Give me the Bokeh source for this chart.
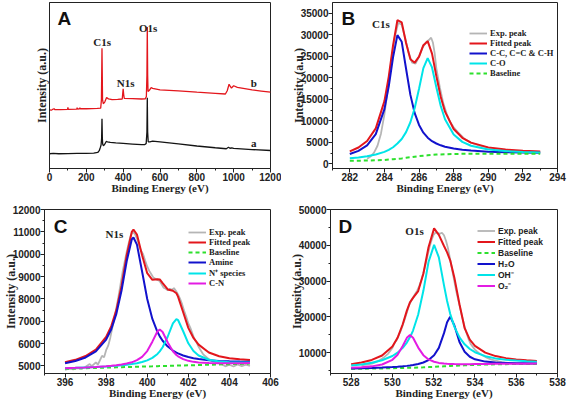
from bokeh.plotting import figure
from bokeh.layouts import column, row
from bokeh.models import Range1d, SingleIntervalTicker, FixedTicker, Label, Legend, LegendItem
from bokeh.embed import file_html
from bokeh.resources import INLINE

# ---------------- data: panel A (survey, arbitrary units) ----------------
survey_a_x = [0, 20, 50, 100, 150, 200, 240, 262, 270, 276, 280, 283, 285, 287, 289, 293, 300, 308, 315, 330,
              360, 400, 450, 500, 518, 525, 529, 531, 533, 536, 545, 560, 600, 700, 800, 900, 960, 972, 980, 990,
              1000, 1100, 1200]
survey_a_y = [6.6, 6.8, 6.6, 6.7, 6.8, 6.9, 7.0, 7.4, 8.5, 10.5, 12.0, 16.0, 28.2, 16.0, 12.5, 11.5, 12.5, 14.2, 14.0, 13.6,
              13.3, 13.0, 12.6, 12.2, 12.3, 13.0, 20.0, 41.2, 20.0, 14.0, 14.0, 14.4, 14.0, 12.7, 11.4, 10.3, 9.7, 10.6, 10.0, 10.2,
              9.9, 9.2, 8.6]
survey_b_x = [0, 10, 20, 25, 30, 60, 98, 100, 102, 148, 150, 152, 163, 165, 167, 200, 260, 278, 282, 285,
              288, 292, 300, 310, 320, 340, 370, 395, 397, 400, 403, 406, 450, 500, 520, 526, 529, 531, 533, 535,
              542, 552, 560, 600, 700, 800, 900, 955, 965, 975, 980, 988, 1000, 1020, 1100, 1150, 1200]
survey_b_y = [33.7, 33.5, 34.2, 34.4, 33.8, 33.9, 34.0, 35.2, 34.0, 34.2, 35.0, 34.2, 34.4, 35.0, 34.4, 34.4, 34.6, 34.8, 40.0, 71.8,
              40.0, 37.5, 38.5, 41.3, 40.5, 40.0, 40.2, 40.4, 43.0, 46.7, 43.0, 40.8, 40.7, 40.4, 40.5, 42.0, 55.0, 84.8, 55.0, 45.0,
              45.8, 47.5, 47.0, 46.1, 45.4, 44.6, 43.9, 43.5, 45.5, 49.5, 48.5, 47.2, 48.6, 47.6, 46.0, 45.3, 44.6]

# ---------------- data: panel B (C1s) ----------------
b_x = [282, 282.5, 283, 283.5, 284, 284.25, 284.5, 284.75, 285, 285.25, 285.5, 285.75, 286, 286.25, 286.5, 286.75,
       287, 287.25, 287.5, 288, 288.5, 289, 290, 291, 292, 293]
b_fit = [2900, 3790, 5300, 8230, 14580, 20270, 27600, 33410, 32870, 28080, 24300, 23500, 24900, 27580, 28500, 25600,
         20370, 15600, 12120, 8090, 6050, 4930, 3820, 3310, 3020, 2850]
b_cc = [2290, 3020, 4300, 6900, 12720, 18010, 24810, 29900, 28350, 22100, 16020, 11760, 9030, 7240, 6070, 5260,
        4720, 4300, 3980, 3570, 3270, 3070, 2830, 2700, 2610, 2550]
b_co = [1310, 1490, 1740, 2150, 2770, 3240, 3850, 4710, 5770, 7370, 9660, 12960, 17450, 22230, 24580, 22400,
        17800, 13490, 10370, 6820, 5100, 4190, 3330, 2960, 2760, 2650]
b_base = [700, 725, 750, 825, 900, 980, 1060, 1160, 1250, 1390, 1520, 1660, 1800, 1890, 1980, 2060,
          2150, 2190, 2230, 2300, 2310, 2320, 2340, 2350, 2350, 2350]
b_exp_x = [283.0, 283.2, 283.4, 283.6, 283.8, 284.0, 284.2, 284.4, 284.6, 284.8, 285.0, 285.2, 285.4, 285.6, 285.8,
           286.0, 286.2, 286.4, 286.6, 286.7, 286.8, 286.9, 287.0, 287.2, 287.4, 287.6, 287.8, 288.0, 288.3, 288.6,
           289.0, 289.5, 290.0, 290.5, 291.0, 292.0, 293.0]
b_exp_y = [1200, 1700, 2600, 4200, 7000, 11500, 17500, 24000, 29500, 32800, 32300, 29200, 25800, 23500, 23300,
           24900, 27000, 28200, 28900, 29300, 28200, 25800, 22200, 17800, 14100, 11600, 9700, 8500, 7100, 5900,
           4900, 4200, 3700, 3400, 3150, 2900, 2750]

# ---------------- data: panel C (N1s) ----------------
c_x = [396, 396.5, 397, 397.5, 398, 398.25, 398.5, 398.75, 399, 399.25, 399.33, 399.5, 399.75, 400, 400.25, 400.5,
       400.61, 400.75, 401, 401.25, 401.42, 401.5, 401.75, 402, 402.25, 402.5, 403, 403.5, 404, 404.5, 405]
c_fit = [5157, 5269, 5440, 5731, 6291, 6777, 7505, 8575, 9941, 11003, 11100, 10880, 9950, 9150, 8850, 8880,
         8870, 8700, 8420, 8360, 8250, 8100, 7400, 6700, 6250, 5950, 5600, 5430, 5340, 5290, 5260]
c_amine = [5115, 5217, 5375, 5647, 6177, 6640, 7340, 8372, 9685, 10668, 10745, 10428, 9223, 7994, 7101, 6511,
           6321, 6123, 5863, 5683, 5593, 5557, 5464, 5395, 5344, 5305, 5252, 5220, 5201, 5191, 5187]
c_nplus = [4891, 4909, 4928, 4948, 4973, 4988, 5005, 5025, 5049, 5079, 5090, 5118, 5170, 5244, 5355, 5533,
           5645, 5830, 6314, 6905, 7092, 7051, 6549, 6009, 5665, 5465, 5274, 5197, 5165, 5151, 5148]
c_cn = [4891, 4909, 4929, 4952, 4983, 5003, 5028, 5058, 5101, 5162, 5187, 5254, 5404, 5660, 6083, 6550,
        6623, 6515, 6044, 5654, 5486, 5427, 5299, 5224, 5178, 5151, 5123, 5112, 5112, 5116, 5123]
c_base = [4870, 4883, 4896, 4908, 4921, 4927, 4934, 4940, 4947, 4953, 4955, 4960, 4966, 4972, 4978, 4985,
          4988, 4991, 4998, 5004, 5009, 5011, 5017, 5023, 5029, 5036, 5049, 5061, 5074, 5087, 5100]
c_exp_x = [396.0, 396.2, 396.4, 396.6, 396.8, 397.0, 397.2, 397.3, 397.5, 397.6, 397.8, 397.9, 398.0, 398.1, 398.2,
           398.3, 398.4, 398.5, 398.6, 398.7, 398.8, 398.9, 399.0, 399.1, 399.2, 399.3, 399.4, 399.5, 399.6, 399.7,
           399.8, 399.9, 400.0, 400.1, 400.2, 400.3, 400.4, 400.5, 400.6, 400.7, 400.8, 400.9, 401.0, 401.1, 401.2,
           401.3, 401.4, 401.5, 401.6, 401.7, 401.8, 401.9, 402.0, 402.1, 402.2, 402.3, 402.4, 402.5, 402.6, 402.7,
           402.8, 403.0, 403.2, 403.4, 403.6, 403.8, 404.0, 404.2, 404.4, 404.6, 404.8, 405.0]
c_exp_y = [4820, 4880, 4840, 4900, 4870, 4960, 5080, 4990, 5150, 5060, 5450, 5380, 5700, 5900, 6250,
           6700, 7100, 7600, 8100, 8650, 9200, 9650, 10100, 10500, 10850, 11000, 10900, 10700, 10400, 10150,
           10000, 9700, 9450, 9250, 9100, 8950, 8900, 8850, 8800, 8650, 8500, 8450, 8380, 8450, 8400,
           8480, 8350, 8200, 8000, 7750, 7450, 7200, 6900, 6700, 6450, 6200, 6050, 5850, 5700, 5550,
           5450, 5300, 5200, 5150, 5080, 4980, 5050, 4970, 5060, 4990, 5050, 5000]

# ---------------- data: panel D (O1s) ----------------
d_x = [528, 528.5, 529, 529.5, 530, 530.25, 530.5, 530.7, 530.85, 531, 531.25, 531.5, 531.75, 532.02, 532.25,
       532.5, 532.65, 532.8, 533, 533.25, 533.5, 533.75, 534, 534.5, 535, 535.5, 536, 536.5, 537]
d_fit = [6748, 7203, 7920, 9161, 11695, 14097, 17899, 21722, 24035, 25278, 27178, 32017, 39448, 44720, 42885,
         39800, 38000, 35800, 31000, 23500, 16800, 13586, 11875, 9972, 8993, 8424, 8065, 7822, 7648]
d_h2o = [5540, 5597, 5674, 5775, 5918, 6017, 6141, 6260, 6370, 6500, 6786, 7211, 7892, 9207, 11296,
         15419, 18483, 20020, 17626, 12934, 10191, 8817, 8100, 7450, 7198, 7081, 7025, 6994, 6973]
d_oh = [6365, 6670, 7123, 7827, 9025, 9965, 11292, 12773, 14245, 16139, 20613, 27255, 35308, 40090, 36614,
        28786, 24403, 20818, 17250, 14244, 12282, 10975, 10080, 8973, 8354, 7978, 7735, 7567, 7445]
d_o2 = [5703, 5856, 6123, 6649, 7952, 9385, 11816, 14099, 14880, 14149, 11379, 9251, 8068, 7403, 7095,
        6910, 6835, 6785, 6749, 6731, 6725, 6734, 6755, 6789, 6821, 6845, 6865, 6881, 6890]
d_base = [5430, 5460, 5500, 5545, 5600, 5635, 5675, 5705, 5730, 5755, 5800, 5850, 5910, 5990, 6060,
          6140, 6180, 6220, 6280, 6350, 6410, 6470, 6530, 6620, 6690, 6740, 6780, 6810, 6830]
d_exp_x = [528.5, 528.8, 529.0, 529.2, 529.4, 529.6, 529.8, 530.0, 530.1, 530.2, 530.3, 530.4, 530.5, 530.6, 530.7,
           530.8, 530.9, 531.0, 531.1, 531.2, 531.3, 531.4, 531.5, 531.6, 531.7, 531.8, 531.9, 532.0, 532.1, 532.2,
           532.3, 532.4, 532.5, 532.6, 532.7, 532.8, 532.9, 533.0, 533.1, 533.2, 533.3, 533.4, 533.5, 533.6, 533.7,
           533.8, 534.0, 534.2, 534.4, 534.6, 534.8, 535.0, 535.3, 535.6, 536.0, 536.4, 536.8, 537.0]
d_exp_y = [6400, 6700, 6900, 7300, 7900, 8700, 9700, 11300, 12600, 13400, 14700, 16000, 17600, 19400, 21200,
           23100, 24400, 25400, 26400, 27300, 28600, 30300, 32200, 34500, 37000, 39500, 41500, 43000, 43600, 43400,
           43200, 43500, 42800, 41200, 39000, 36000, 33000, 30000, 27000, 24500, 22000, 19500, 17200, 15300, 13600,
           12300, 10800, 9800, 9100, 8500, 8000, 7700, 7300, 7100, 6900, 6850, 6750, 6800]

legend_b = ["Exp. peak", "Fitted peak", "C-C, C=C & C-H", "C-O", "Baseline"]
legend_c = ["Exp. peak", "Fitted peak", "Baseline", "Amine", "N\u207a species", "C-N"]
legend_d = ["Exp. peak", "Fitted peak", "Baseline", "H\u2082O", "OH\u207b", "O\u2082\u207b"]

# ---------------- styling ----------------
SERIF = "Liberation Serif"
SANS = "Liberation Sans"
INK = "#222222"
RED = "#e3161c"
BLUE = "#1212cc"
CYAN = "#00e4e8"
MAG = "#e31ce3"
GREEN = "#2de02d"
GRAY = "#b5b5b5"
BLACK = "#141414"


def make_fig(w, h, xr, yr, bl, br, bt, bb, xint, yint):
    p = figure(width=w, height=h, x_range=Range1d(*xr), y_range=Range1d(*yr),
               output_backend="svg", toolbar_location=None, tools="",
               min_border_left=bl, min_border_right=br, min_border_top=bt, min_border_bottom=bb)
    p.xgrid.visible = False
    p.ygrid.visible = False
    p.outline_line_color = INK
    p.outline_line_width = 1
    p.outline_line_alpha = 1
    for ax in (p.xaxis[0], p.yaxis[0]):
        ax.axis_line_color = INK
        ax.major_tick_line_color = INK
        ax.minor_tick_line_color = INK
        ax.major_tick_in = 0
        ax.major_tick_out = 4
        ax.minor_tick_in = 0
        ax.minor_tick_out = 2
        ax.major_label_text_font = SANS
        ax.major_label_text_font_style = "bold"
        ax.major_label_text_font_size = "10px"
        ax.major_label_text_color = INK
        ax.major_label_standoff = 0
        ax.axis_label_text_font = SERIF
        ax.axis_label_text_font_style = "bold"
        ax.axis_label_text_color = INK
    p.xaxis.axis_label = "Binding Energy (eV)"
    p.xaxis.axis_label_text_font_size = "11px"
    p.xaxis.axis_label_standoff = -2
    p.yaxis.axis_label = "Intensity (a.u.)"
    p.yaxis.axis_label_text_font_size = "12px"
    p.yaxis.axis_label_standoff = -8
    p.xaxis.ticker = SingleIntervalTicker(interval=xint, num_minor_ticks=2)
    if yint:
        p.yaxis.ticker = SingleIntervalTicker(interval=yint, num_minor_ticks=2)
    return p


def text(p, x, y, s, size="11px", font=SERIF):
    p.add_layout(Label(x=x, y=y, text=s, text_font=font, text_font_style="bold",
                       text_font_size=size, text_color=INK, text_align="center", text_baseline="middle"))


def letter(p, x, y, s):
    p.add_layout(Label(x=x, y=y, text=s, text_font=SANS, text_font_style="bold",
                       text_font_size="19px", text_color="#111111", text_align="left", text_baseline="top"))


def add_legend(p, labels, renderers, loc, font, row_h):
    items = [LegendItem(label=l, renderers=[r]) for l, r in zip(labels, renderers)]
    lg = Legend(items=items, location=loc, padding=0, margin=0, spacing=0,
                glyph_width=18, glyph_height=row_h, label_height=row_h, label_standoff=3,
                border_line_alpha=0, background_fill_alpha=0,
                label_text_font=font, label_text_font_style="bold",
                label_text_font_size="8.5px", label_text_color=INK)
    p.add_layout(lg)


# ---------------- panel A ----------------
pa = make_fig(281, 203, (0, 1200), (-2.5, 100), 49, 11, 2, 35, 200, None)
pa.yaxis.ticker = FixedTicker(ticks=[])
pa.yaxis.major_tick_out = 0
pa.yaxis.minor_tick_out = 0
pa.yaxis.axis_label_standoff = 1
pa.line(survey_a_x, survey_a_y, line_color=BLACK, line_width=1.3)
pa.line(survey_b_x, survey_b_y, line_color=RED, line_width=1.3)
text(pa, 286, 75.5, "C1s")
text(pa, 413, 50.6, "N1s")
text(pa, 536, 84.0, "O1s")
text(pa, 1109, 50.0, "b")
text(pa, 1109, 13.1, "a")
letter(pa, 43.4, 96.9, "A")

# ---------------- panel B ----------------
pb = make_fig(286, 203, (281, 294), (-1090, 37490), 51, 10, 1, 35, 2, 5000)
rb = [pb.line(b_exp_x, b_exp_y, line_color=GRAY, line_width=1.8),
      pb.line(b_x, b_fit, line_color=RED, line_width=2),
      pb.line(b_x, b_cc, line_color=BLUE, line_width=2),
      pb.line(b_x, b_co, line_color=CYAN, line_width=2),
      pb.line(b_x, b_base, line_color=GREEN, line_width=2, line_dash="4 3")]
add_legend(pb, legend_b, rb, (137, 90), SERIF, 10)
text(pb, 283.8, 32400, "C1s")
letter(pb, 281.52, 36100, "B")

# ---------------- panel C ----------------
pc = make_fig(279, 203, (395, 406), (4657, 12000), 44, 9, 6, 33, 2, 1000)
rc = [pc.line(c_exp_x, c_exp_y, line_color=GRAY, line_width=1.8),
      pc.line(c_x, c_fit, line_color=RED, line_width=2),
      pc.line(c_x, c_base, line_color=GREEN, line_width=2, line_dash="4 3"),
      pc.line(c_x, c_amine, line_color=BLUE, line_width=2),
      pc.line(c_x, c_nplus, line_color=CYAN, line_width=2),
      pc.line(c_x, c_cn, line_color=MAG, line_width=2)]
add_legend(pc, legend_c, rc, (144, 85), SERIF, 10)
text(pc, 398.4, 10886, "N1s")
letter(pc, 395.45, 11730, "C")

# ---------------- panel D ----------------
pd_ = make_fig(288, 203, (527, 538), (4126, 50000), 51, 10, 6, 33, 2, 10000)
rd = [pd_.line(d_exp_x, d_exp_y, line_color=GRAY, line_width=1.8),
      pd_.line(d_x, d_fit, line_color=RED, line_width=2),
      pd_.line(d_x, d_base, line_color=GREEN, line_width=2, line_dash="4 3"),
      pd_.line(d_x, d_h2o, line_color=BLUE, line_width=2),
      pd_.line(d_x, d_oh, line_color=CYAN, line_width=2),
      pd_.line(d_x, d_o2, line_color=MAG, line_width=2)]
add_legend(pd_, legend_d, rd, (147, 82), SANS, 11)
text(pd_, 531.07, 44100, "O1s")
letter(pd_, 527.39, 48320, "D")

layout = column(row(pa, pb), row(pc, pd_))
open("out.html", "w").write(file_html(layout, INLINE))
